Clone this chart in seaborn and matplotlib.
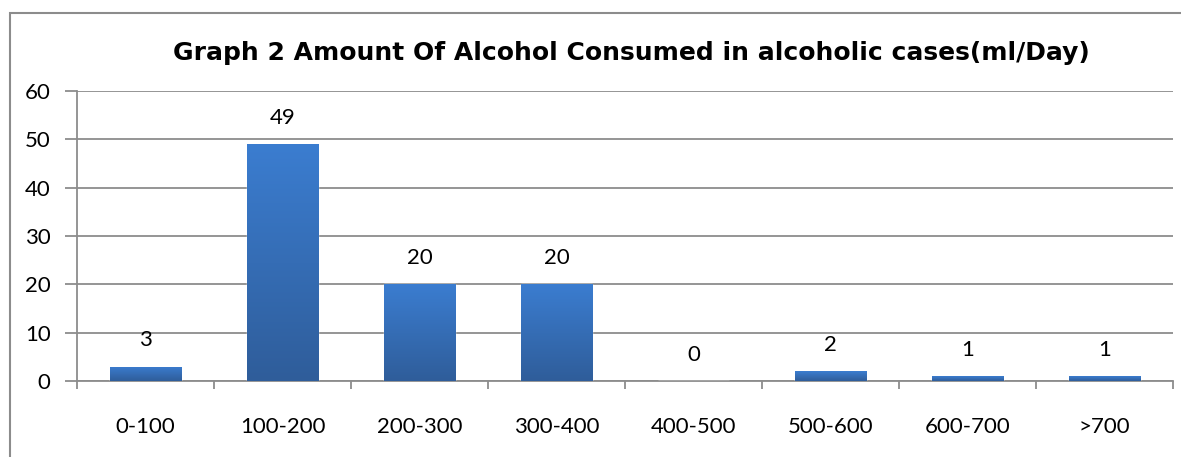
import numpy as np
import pandas as pd
import matplotlib
matplotlib.use('Agg')
import matplotlib.pyplot as plt
import seaborn as sns
from matplotlib.colors import LinearSegmentedColormap
from matplotlib.patches import Rectangle

# Data
categories = ['0-100', '100-200', '200-300', '300-400', '400-500', '500-600', '600-700', '>700']
cases = [3, 49, 20, 20, 0, 2, 1, 1]
title = 'Graph 2 Amount Of Alcohol Consumed in alcoholic cases(ml/Day)'

df = pd.DataFrame({'range': categories, 'cases': cases})

sns.set_theme(style='white')
plt.rcParams['font.family'] = ['Lato', 'DejaVu Sans']
plt.rcParams['text.color'] = 'black'

fig = plt.figure(figsize=(11.81, 4.57), dpi=100)
ax = fig.add_axes([0.0652, 0.1663, 0.928, 0.6346])

sns.barplot(data=df, x='range', y='cases', color='#3a78c8', width=0.52,
            saturation=1, ax=ax, zorder=3)

# vertical gradient on each bar
grad = LinearSegmentedColormap.from_list('g', ['#2f5d9a', '#3b7dd0'])
gimg = np.linspace(0, 1, 256).reshape(-1, 1)
for p in ax.patches:
    h = p.get_height()
    if h <= 0:
        continue
    x0 = p.get_x()
    im = ax.imshow(gimg, cmap=grad, origin='lower', aspect='auto',
                   extent=[x0, x0 + p.get_width(), 0, h], zorder=3.5)
    im.set_clip_path(p)

ax.set_xlim(-0.5, len(categories) - 0.5)
ax.set_ylim(0, 60)
ax.set_yticks(range(0, 61, 10))
ax.grid(axis='y', color='#8c8c8c', linewidth=1.3, zorder=0)
ax.set_axisbelow(True)

for s in ['top', 'right']:
    ax.spines[s].set_visible(False)
for s in ['left', 'bottom']:
    ax.spines[s].set_color('#8c8c8c')
    ax.spines[s].set_linewidth(1.3)

# category ticks sit between bars
ax.set_xticks(np.arange(-0.5, len(categories) - 0.5 + 0.01, 1), minor=True)
ax.tick_params(axis='x', which='minor', length=6, color='#8c8c8c', width=1.3, bottom=True)
ax.tick_params(axis='x', which='major', length=0, labelsize=16, pad=26, colors='black')
ax.tick_params(axis='y', length=9, color='#8c8c8c', width=1.3, left=True, labelsize=16,
               pad=10, colors='black')
ax.set_xlabel('')
ax.set_ylabel('')

for i, v in enumerate(cases):
    ax.annotate(str(v), (i, v), xytext=(0, 19), textcoords='offset points',
                ha='center', va='center', fontsize=16, color='black')

fig.text(0.535, 0.885, title, ha='center', va='center', fontsize=18,
         fontweight='bold', color='black', family=['DejaVu Sans'])

# outer chart border
fig.patches.append(Rectangle((0.0085, -0.1), 1.1, 1.0716, transform=fig.transFigure,
                             fill=False, edgecolor='#8c8c8c', linewidth=1.5))

fig.savefig('out.png', dpi=100)
